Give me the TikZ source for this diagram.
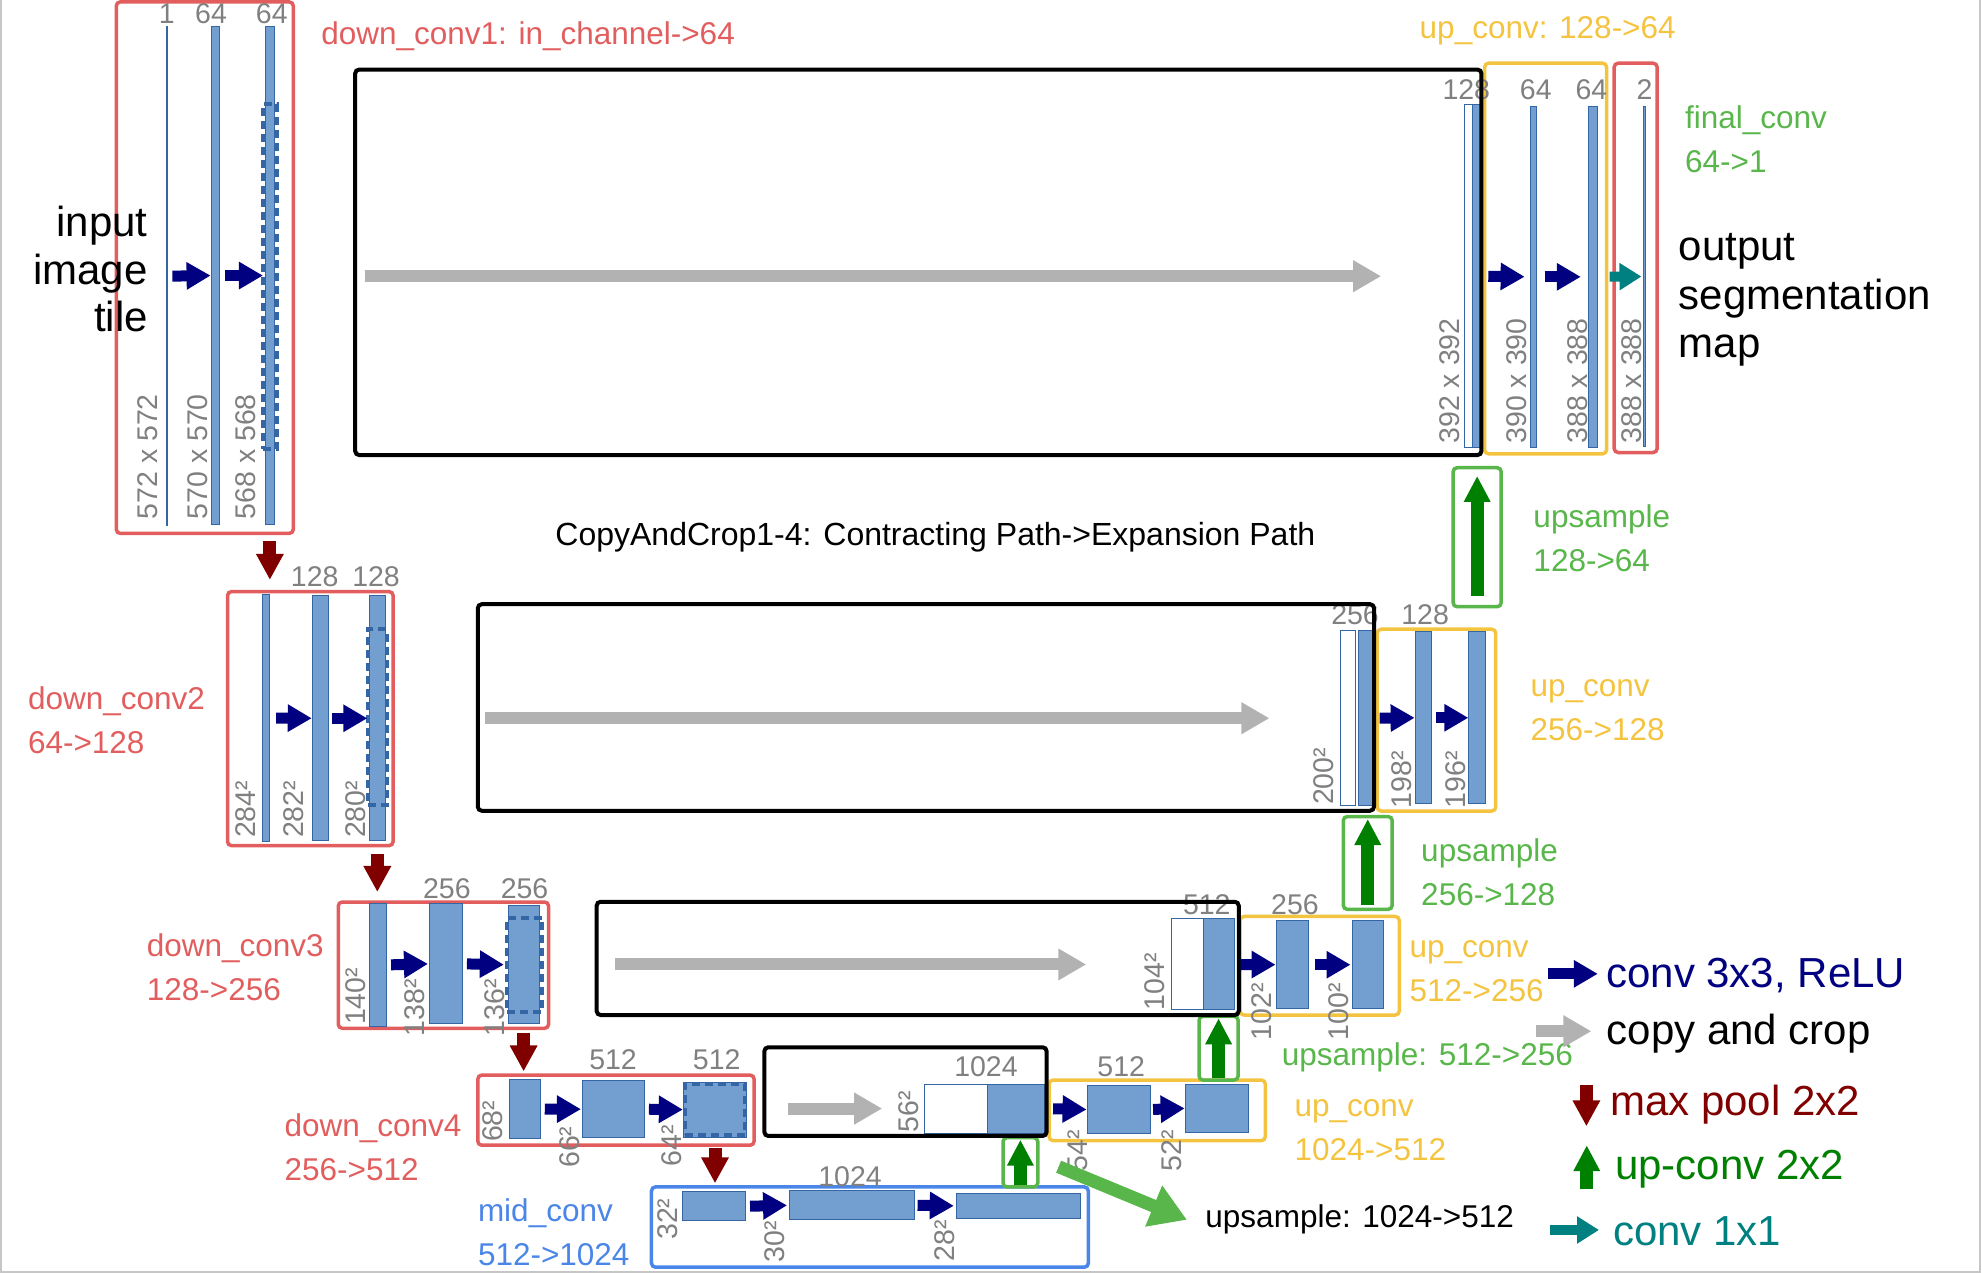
\documentclass[tikz,border=0pt]{standalone}
\usepackage{fontspec}
\setmainfont{Liberation Sans}
\newfontfamily\widefont[FakeStretch=1.0]{Liberation Sans}
\usetikzlibrary{arrows.meta,fit,calc}

\definecolor{barfill}{RGB}{114,159,207}
\definecolor{barline}{RGB}{52,101,164}
\definecolor{downred}{RGB}{226,94,94}
\definecolor{upyellow}{RGB}{244,196,64}
\definecolor{samplegreen}{RGB}{88,182,74}
\definecolor{midblue}{RGB}{74,134,232}
\definecolor{dimgray}{RGB}{128,128,128}
\definecolor{copygray}{RGB}{178,178,178}
\definecolor{convnavy}{RGB}{0,0,128}
\definecolor{pooldark}{RGB}{128,0,0}
\definecolor{updark}{RGB}{0,128,0}
\definecolor{tealc}{RGB}{0,128,128}

\tikzset{
  fmap/.style={draw=barline, fill=barfill, line width=1pt, inner sep=0pt},
  fmapcopy/.style={draw=barline, fill=white, line width=1pt, inner sep=0pt},
  cropmark/.style={draw=barline, line width=4pt, dash pattern=on 8pt off 5pt, inner sep=0pt},
  blockframe/.style={rounded corners=4pt, line width=3.5pt, inner sep=0pt},
  downbox/.style={blockframe, draw=downred},
  upbox/.style={blockframe, draw=upyellow},
  samplebox/.style={blockframe, draw=samplegreen},
  midbox/.style={blockframe, draw=midblue},
  copybox/.style={blockframe, draw=black, line width=4pt},
  dims/.style={text=dimgray, font=\fontsize{28.5}{30}\selectfont, inner sep=0pt},
  dimsup/.style={dims, rotate=90, anchor=west},
  tagtext/.style={font=\fontsize{31.5}{44}\selectfont, inner sep=0pt, anchor=west, align=left},
  bigtext/.style={font=\fontsize{42}{48.5}\selectfont, inner sep=0pt},
  convarrow/.style={draw=convnavy, line width=11pt, -{Triangle[length=24pt,width=26pt]}},
  copyarrow/.style={draw=copygray, line width=12pt, -{Triangle[length=28pt,width=30pt]}},
  poolarrow/.style={draw=pooldark, line width=13pt, -{Triangle[length=26pt,width=26pt]}},
  uparrow/.style={draw=updark, line width=13pt, -{Triangle[length=26pt,width=25pt]}},
  onearrow/.style={draw=tealc, line width=10pt, -{Triangle[length=22pt,width=26pt]}},
  hintarrow/.style={draw=samplegreen, line width=13pt, -{Triangle[length=36pt,width=42pt]}},
}

\begin{document}
\begin{tikzpicture}[x=1.264pt, y=-1.264pt]
\useasboundingbox (0,0) rectangle (1568,1007);
\draw[gray!45, line width=2pt] (1,0) -- (1,1006) -- (1566.5,1006) -- (1566.5,0);

% blocks
\node[downbox, fit={(92,1.5) (232,422)}] (dc1) {};
\node[downbox, fit={(180,468) (311,669)}] (dc2) {};
\node[downbox, fit={(267.6,713.6) (434,813.5)}] (dc3) {};
\node[downbox, fit={(378,850.5) (596.6,906)}] (dc4) {};
\node[midbox, fit={(515.4,939) (861,1002.5)}] (mc) {};
\node[upbox, fit={(1174.5,50) (1271,359)}] (uc1) {};
\node[upbox, fit={(1089.5,497.8) (1183.3,641.6)}] (uc2) {};
\node[upbox, fit={(981,725) (1107,803)}] (uc3) {};
\node[upbox, fit={(830,854.4) (1001,902.4)}] (uc4) {};
\node[downbox, fit={(1277,50) (1311,358)}] (fc) {};
\node[samplebox, fit={(1149.6,370) (1187.6,480)}] (us1) {};
\node[samplebox, fit={(1062.7,646) (1101.4,719.4)}] (us2) {};
\node[samplebox, fit={(948.6,804) (979.5,854.4)}] (us3) {};
\node[samplebox, fit={(793.5,900) (821,939)}] (us4) {};

% feature maps, contracting path
\node[fmap, fit={(131.4,21) (132.6,416)}] (d11) {};
\node[fmap, fit={(167,21) (174,415)}] (d12) {};
\node[fmap, fit={(210,21) (217,415)}] (d13) {};
\node[cropmark, fit={(208,82) (219,355)}] (k1) {};
\node[fmap, fit={(208,470) (213,666)}] (d21) {};
\node[fmap, fit={(247,471.5) (260,665)}] (d22) {};
\node[fmap, fit={(292,471.5) (305,665)}] (d23) {};
\node[cropmark, fit={(291,498) (306,637)}] (k2) {};
\node[fmap, fit={(292.7,715) (306,811.7)}] (d31) {};
\node[fmap, fit={(340,715) (366,810)}] (d32) {};
\node[fmap, fit={(402,716.5) (426.5,810)}] (d33) {};
\node[cropmark, fit={(401,726) (429,800.5)}] (k3) {};
\node[fmap, fit={(402.8,853.8) (427.8,901)}] (d41) {};
\node[fmap, fit={(461,855) (510,900)}] (d42) {};
\node[fmap, fit={(540.6,856) (590.7,899.6)}] (d43) {};
\node[cropmark, fit={(542,857.5) (589.5,898)}] (k4) {};
\node[fmap, fit={(539.6,943) (589.5,965.7)}] (m1) {};
\node[fmap, fit={(624.7,942) (723.6,965)}] (m2) {};
\node[fmap, fit={(756.4,944) (855,964)}] (m3) {};

% feature maps, expansive path
\node[fmapcopy, fit={(1158.6,83) (1164.6,354)}] (h1) {};
\node[fmap, fit={(1165,83) (1171,354)}] (u1a) {};
\node[fmap, fit={(1210.5,84) (1215.5,354)}] (u1b) {};
\node[fmap, fit={(1257,84) (1263.5,354)}] (u1c) {};
\node[fmap, fit={(1300.4,84.5) (1301.6,353)}] (fo) {};
\node[fmapcopy, fit={(1060.7,499) (1072.5,637.4)}] (h2) {};
\node[fmap, fit={(1074.5,499) (1086.4,637.4)}] (u2a) {};
\node[fmap, fit={(1120,499.7) (1132.6,636)}] (u2b) {};
\node[fmap, fit={(1162,499.7) (1175.4,636)}] (u2c) {};
\node[fmapcopy, fit={(927,727) (952,799)}] (h3) {};
\node[fmap, fit={(952,727) (976.5,799)}] (u3a) {};
\node[fmap, fit={(1010,728.4) (1035,798)}] (u3b) {};
\node[fmap, fit={(1069.6,728.4) (1094.3,798)}] (u3c) {};
\node[fmapcopy, fit={(731,857.6) (781,896.4)}] (h4) {};
\node[fmap, fit={(781,857.6) (826,896.4)}] (u4a) {};
\node[fmap, fit={(860,859) (910,896.5)}] (u4b) {};
\node[fmap, fit={(937.6,857.7) (987.8,896)}] (u4c) {};

% channel counts
\node[dims] (c11) at (132,11) {1};
\node[dims] (c12) at (167,11) {64};
\node[dims] (c13) at (215,11) {64};
\node[dims] (c21) at (249,456) {128};
\node[dims] (c22) at (297.5,456) {128};
\node[dims] (c31) at (353.5,703) {256};
\node[dims] (c32) at (415,703) {256};
\node[dims] (c41) at (485,838.6) {512};
\node[dims] (c42) at (567,838.6) {512};
\node[dims] (cm) at (672.5,931) {1024};
\node[dims] (e11) at (1160,71) {128};
\node[dims] (e12) at (1215,71) {64};
\node[dims] (e13) at (1259,71) {64};
\node[dims] (e14) at (1301,71) {2};
\node[dims] (e21) at (1072,486.6) {256};
\node[dims] (e22) at (1127.4,486.6) {128};
\node[dims] (e31) at (954.7,716) {512};
\node[dims] (e32) at (1024.5,716) {256};
\node[dims] (e41) at (780,844) {1024};
\node[dims] (e42) at (887,844) {512};

% sizes
\node[dimsup] (s11) at (116.5,411) {572 x 572};
\node[dimsup] (s12) at (156,411) {570 x 570};
\node[dimsup] (s13) at (194,411) {568 x 568};
\node[dimsup] (s21) at (194,663) {284²};
\node[dimsup] (s22) at (232,663) {282²};
\node[dimsup] (s23) at (281,663) {280²};
\node[dimsup] (s31) at (281,811) {140²};
\node[dimsup] (s32) at (328,820) {138²};
\node[dimsup] (s33) at (391.6,820) {136²};
\node[dimsup] (s41) at (390,903.6) {68²};
\node[dimsup] (s42) at (451,924) {66²};
\node[dimsup] (s43) at (531.6,923) {64²};
\node[dimsup] (sm1) at (528,981) {32²};
\node[dimsup] (sm2) at (613,999) {30²};
\node[dimsup] (sm3) at (747,998) {28²};
\node[dimsup] (t11) at (1147,351) {392 x 392};
\node[dimsup] (t12) at (1199.5,351) {390 x 390};
\node[dimsup] (t13) at (1248.5,351) {388 x 388};
\node[dimsup] (t14) at (1291,351) {388 x 388};
\node[dimsup] (t21) at (1046.9,637) {200²};
\node[dimsup] (t22) at (1109,639.4) {198²};
\node[dimsup] (t23) at (1152,639.4) {196²};
\node[dimsup] (t31) at (913.8,799.6) {104²};
\node[dimsup] (t32) at (998,823) {102²};
\node[dimsup] (t33) at (1058.7,823) {100²};
\node[dimsup] (t41) at (718.5,895.7) {56²};
\node[dimsup] (t42) at (852.5,927) {54²};
\node[dimsup] (t43) at (927,927) {52²};

% copy and crop boxes
\node[copybox, fit={(281,55) (1172,360)}] (cc1) {};
\node[copybox, fit={(378,478) (1087,641.4)}] (cc2) {};
\node[copybox, fit={(472,713.4) (980,803)}] (cc3) {};
\node[copybox, fit={(604.7,828.5) (828,898.7)}] (cc4) {};

\draw[copyarrow, shorten <=11.4pt, shorten >=82.9pt] (cc1.west |- h1.west) -- (h1.west);
\draw[copyarrow, shorten <=8.8pt, shorten >=70.8pt] (cc2.west |- h2.west) -- (h2.west);
\draw[copyarrow, shorten <=20.2pt, shorten >=85pt] (cc3.west |- h3.west) -- (h3.west);
\draw[copyarrow, shorten <=25.3pt, shorten >=41.3pt] (cc4.west |- h4.west) -- (h4.west);

% conv 3x3
\draw[convarrow, shorten <=4.3pt] (d11.east) -- (d12.west);
\draw[convarrow, shorten <=5pt, shorten >=2pt] (d12.east) -- (d13.west);
\draw[convarrow, shorten <=6.3pt] (d21.east) -- (d22.west);
\draw[convarrow, shorten <=2.5pt, shorten >=1.3pt] (d22.east) -- (d23.west);
\draw[convarrow, shorten <=3.8pt, shorten >=1.3pt] (d31.east) -- (d32.west);
\draw[convarrow, shorten <=3.8pt, shorten >=3.8pt] (d32.east) -- (d33.west);
\draw[convarrow, shorten <=3.5pt, shorten >=1.3pt] (d41.east) -- (d42.west);
\draw[convarrow, shorten <=3.8pt] (d42.east) -- (d43.west);
\draw[convarrow, shorten <=4.4pt, shorten >=2.1pt] (m1.east) -- (m2.west);
\draw[convarrow, shorten <=2.4pt, shorten >=1.8pt] (m2.east) -- (m3.west);
\draw[convarrow, shorten <=7.6pt, shorten >=5pt] (u1a.east) -- (u1b.west);
\draw[convarrow, shorten <=7.6pt, shorten >=7.6pt] (u1b.east) -- (u1c.west);
\draw[convarrow, shorten <=5.8pt, shorten >=0.6pt] (u2a.east) -- (u2b.west);
\draw[convarrow, shorten <=3.4pt] (u2b.east) -- (u2c.west);
\draw[convarrow, shorten <=5.7pt, shorten >=0.6pt] (u3a.east) -- (u3b.west);
\draw[convarrow, shorten <=5.8pt, shorten >=1pt] (u3b.east) -- (u3c.west);
\draw[convarrow, shorten <=8.5pt] (u4a.east) -- (u4b.west);
\draw[convarrow, shorten <=2.3pt] (u4b.east) -- (u4c.west);
\draw[onearrow, shorten <=12pt, shorten >=1.8pt] (u1c.east) -- (fo.west);

% max pool
\draw[poolarrow, shorten <=6.3pt, shorten >=10pt] (d13 |- dc1.south) -- (d13 |- dc2.north);
\draw[poolarrow, shorten <=6.3pt, shorten >=8.3pt] (d23 |- dc2.south) -- (d23 |- dc3.north);
\draw[poolarrow, shorten <=3.2pt, shorten >=1.9pt] (d33 |- dc3.south) -- (d33 |- dc4.north);
\draw[poolarrow, shorten <=1.3pt, shorten >=1.9pt] (d43 |- dc4.south) -- (d43 |- mc.north);

% up-conv
\draw[uparrow, shorten <=12.6pt, shorten >=10pt] (us1.south) -- (us1.north);
\draw[uparrow, shorten <=6.2pt, shorten >=4.2pt] (us2.south) -- (us2.north);
\draw[uparrow, shorten <=3.3pt, shorten >=3.8pt] (us3.south) -- (us3.north);
\draw[uparrow, shorten <=3.8pt, shorten >=3.8pt] (us4.south) -- (us4.north);

% labels
\node[bigtext, align=right, anchor=east, font=\fontsize{42}{47.5}\selectfont] (inp) at (117,213) {input\\image\\tile};
\node[bigtext, align=left, anchor=west] (outp) at (1328,237.5) {output\\segmentation\\map};
\node[tagtext, text=downred] (ldc1) at (254,29) {down\_conv1: in\_channel->64};
\node[tagtext, text=downred] (ldc2) at (22,569.5) {down\_conv2\\64->128};
\node[tagtext, text=downred] (ldc3) at (116,765) {down\_conv3\\128->256};
\node[tagtext, text=downred] (ldc4) at (225,907.7) {down\_conv4\\256->512};
\node[tagtext, text=midblue] (lmc) at (378,975) {mid\_conv\\512->1024};
\node[tagtext, text=upyellow] (luc1) at (1123,24.6) {up\_conv: 128->64};
\node[tagtext, text=upyellow] (luc2) at (1210.7,562) {up\_conv\\256->128};
\node[tagtext, text=upyellow] (luc3) at (1115,768) {up\_conv\\512->256};
\node[tagtext, text=upyellow] (luc4) at (1024,894) {up\_conv\\1024->512};
\node[tagtext, text=samplegreen] (lfc) at (1333,110.5) {final\_conv\\64->1};
\node[tagtext, text=samplegreen] (lus1) at (1213,425.5) {upsample\\128->64};
\node[tagtext, text=samplegreen] (lus2) at (1124.2,690) {upsample\\256->128};
\node[tagtext, text=samplegreen] (lus3) at (1014,836.5) {upsample: 512->256};
\node[tagtext] (lus4) at (953.5,964.6) {upsample: 1024->512};
\node[font=\widefont\fontsize{32}{36}\selectfont, inner sep=0pt] (lcc) at (740,425) {CopyAndCrop1-4: Contracting Path->Expansion Path};
\draw[hintarrow] ($(us4.east)+(15.1,3.5)$) -- ($(lus4.west)+(-14.5,0.4)$);

% legend
\node[bigtext, anchor=west, text=convnavy] (lg1) at (1270.6,772) {conv 3x3, ReLU};
\node[bigtext, anchor=west] (lg2) at (1271,817.4) {copy and crop};
\node[bigtext, anchor=west, text=pooldark] (lg3) at (1273.7,873.6) {max pool 2x2};
\node[bigtext, anchor=west, text=updark] (lg4) at (1277.7,925) {up-conv 2x2};
\node[bigtext, anchor=west, text=tealc] (lg5) at (1276,974) {conv 1x1};
\draw[convarrow] ([xshift=-57.6pt,yshift=2pt]lg1.west) -- ([xshift=-8.3pt,yshift=2pt]lg1.west);
\draw[copyarrow] ([xshift=-70.8pt,yshift=2pt]lg2.west) -- ([xshift=-15.2pt,yshift=2pt]lg2.west);
\draw[poolarrow] ([xshift=-23.6pt,yshift=19.7pt]lg3.west) -- ([xshift=-23.6pt,yshift=-22pt]lg3.west);
\draw[uparrow] ([xshift=-28.3pt,yshift=-19.9pt]lg4.west) -- ([xshift=-28.3pt,yshift=24pt]lg4.west);
\draw[onearrow] ([xshift=-63.2pt,yshift=1.2pt]lg5.west) -- ([xshift=-13.9pt,yshift=1.2pt]lg5.west);
\end{tikzpicture}
\end{document}
